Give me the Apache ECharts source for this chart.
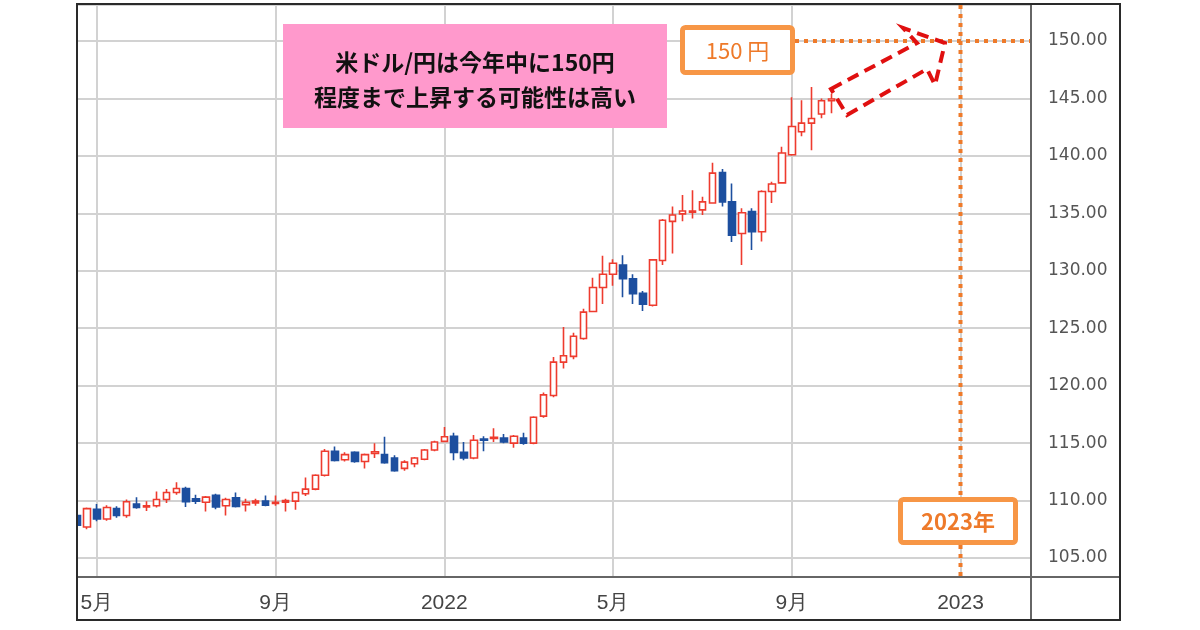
<!DOCTYPE html>
<html><head><meta charset="utf-8">
<script src="https://cdn.jsdelivr.net/npm/echarts@6/dist/echarts.min.js"></script>
<style>html,body{margin:0;padding:0;background:#fff}#c{width:1200px;height:630px}</style>
</head><body><div id="c"></div>
<script>
// Weekly categories (week starting Monday)
const weeks = [
'2021-04-19','2021-04-26','2021-05-03','2021-05-10','2021-05-17','2021-05-24','2021-05-31','2021-06-07','2021-06-14','2021-06-21',
'2021-06-28','2021-07-05','2021-07-12','2021-07-19','2021-07-26','2021-08-02','2021-08-09','2021-08-16','2021-08-23','2021-08-30',
'2021-09-06','2021-09-13','2021-09-20','2021-09-27','2021-10-04','2021-10-11','2021-10-18','2021-10-25','2021-11-01','2021-11-08',
'2021-11-15','2021-11-22','2021-11-29','2021-12-06','2021-12-13','2021-12-20','2021-12-27','2022-01-03','2022-01-10','2022-01-17',
'2022-01-24','2022-01-31','2022-02-07','2022-02-14','2022-02-21','2022-02-28','2022-03-07','2022-03-14','2022-03-21','2022-03-28',
'2022-04-04','2022-04-11','2022-04-18','2022-04-25','2022-05-02','2022-05-09','2022-05-16','2022-05-23','2022-05-30','2022-06-06',
'2022-06-13','2022-06-20','2022-06-27','2022-07-04','2022-07-11','2022-07-18','2022-07-25','2022-08-01','2022-08-08','2022-08-15',
'2022-08-22','2022-08-29','2022-09-05','2022-09-12','2022-09-19','2022-09-26','2022-10-03','2022-10-10','2022-10-17','2022-10-24',
'2022-10-31','2022-11-07','2022-11-14','2022-11-21','2022-11-28','2022-12-05','2022-12-12','2022-12-19','2022-12-26','2023-01-02',
'2023-01-09','2023-01-16','2023-01-23','2023-01-30','2023-02-06','2023-02-13','2023-02-20'
];
// USD/JPY weekly: [open, close, low, high]
const ohlc = [
[108.7,107.85,107.6,108.9],[107.7,109.3,107.5,109.4],[109.25,108.4,108.2,109.7],[108.4,109.4,108.25,109.6],[109.3,108.7,108.5,109.5],
[108.7,109.9,108.5,110.1],[109.7,109.4,109.3,110.3],[109.45,109.55,109.1,109.95],[109.55,110.1,109.4,110.8],[110.1,110.7,109.8,111.0],
[110.7,111.05,110.5,111.6],[111.05,109.9,109.45,111.2],[110.15,109.95,109.7,110.5],[109.85,110.3,109.05,110.4],[110.45,109.45,109.25,110.6],
[109.55,110.1,108.7,110.25],[110.25,109.5,109.4,110.7],[109.65,109.85,109.05,110.15],[109.8,109.95,109.55,110.15],[109.95,109.6,109.5,110.45],
[109.75,109.85,109.55,110.45],[109.85,110.0,109.05,110.15],[109.95,110.7,109.2,110.8],[110.6,111.0,110.4,112.0],[111.0,112.2,110.9,112.3],
[112.2,114.3,112.1,114.5],[114.3,113.5,113.4,114.7],[113.55,114.0,113.4,114.2],[114.2,113.4,113.3,114.3],[113.4,114.0,112.8,114.1],
[114.1,114.25,113.7,115.0],[114.0,113.3,113.2,115.55],[113.7,112.6,112.5,113.95],[112.8,113.35,112.6,113.5],[113.2,113.7,112.9,113.8],
[113.6,114.4,113.5,114.5],[114.4,115.1,114.3,115.2],[115.15,115.55,115.1,116.4],[115.6,114.2,113.5,115.9],[114.2,113.7,113.5,115.1],
[113.7,115.25,113.6,115.7],[115.35,115.25,114.3,115.6],[115.4,115.5,115.1,116.3],[115.45,115.1,115.0,115.8],[115.0,115.6,114.6,115.7],
[115.45,115.0,114.85,115.9],[115.0,117.25,114.9,117.35],[117.35,119.2,117.2,119.4],[119.15,122.05,119.0,122.5],[122.05,122.6,121.5,125.1],
[122.55,124.3,122.3,124.6],[124.1,126.4,124.0,126.7],[126.45,128.55,126.4,129.4],[128.55,129.7,127.1,131.3],[129.7,130.65,128.7,131.0],
[130.5,129.3,127.7,131.35],[129.3,128.0,127.1,129.7],[128.05,127.1,126.5,128.25],[127.0,130.95,126.9,131.0],[130.9,134.4,130.5,134.5],
[134.3,134.85,131.5,135.6],[134.95,135.2,134.3,136.6],[135.1,135.2,134.55,137.0],[135.3,136.0,134.85,136.45],[135.9,138.5,135.85,139.4],
[138.55,136.0,135.6,138.85],[136.0,133.1,132.5,137.6],[133.25,135.05,130.5,135.45],[135.15,133.4,131.8,135.45],[133.4,136.9,132.55,137.0],
[136.9,137.55,135.9,137.75],[137.65,140.25,137.6,140.8],[140.1,142.55,140.0,145.1],[142.1,142.85,141.7,144.85],[142.85,143.25,140.5,146.0],
[143.65,144.8,143.27,145.0],[144.8,144.95,143.7,145.4]
];
const xTickDates = ['2021-05-03','2021-09-06','2022-01-03','2022-05-02','2022-09-05','2023-01-02'];
const xTickLabels = ['5月','9月','2022','5月','9月','2023'];
const yMin = 103.35, yMax = 153.13;
const targetValue = 150;
const targetDate = '2023-01-02';
const noteLines = ['米ドル/円は今年中に150円', '程度まで上昇する可能性は高い'];
const targetLabel = '150 円';
const yearLabel = '2023年';

const chart = echarts.init(document.getElementById('c'), null, {renderer: 'canvas'});
const isTick = (i, v) => xTickDates.indexOf(v) >= 0;
chart.setOption({
  animation: false,
  backgroundColor: '#ffffff',
  grid: {left: 77, right: 170, top: 5, bottom: 53, containLabel: false, outerBoundsMode: 'none'},
  xAxis: {
    type: 'category', data: weeks, boundaryGap: false,
    axisLine: {show: false}, axisTick: {show: false},
    axisLabel: {interval: isTick, formatter: v => xTickLabels[xTickDates.indexOf(v)] || '',
      fontFamily: '"Liberation Sans Narrow","Liberation Sans",sans-serif', fontSize: 21, color: '#444', margin: 16},
    splitLine: {show: true, interval: isTick, lineStyle: {color: '#d2d2d2', width: 2}}
  },
  yAxis: {
    type: 'value', position: 'right', min: yMin, max: yMax, splitNumber: 10,
    axisLine: {show: false}, axisTick: {show: false},
    axisLabel: {formatter: v => (Math.abs(v / 5 - Math.round(v / 5)) < 1e-6 ? v.toFixed(2) : ''),
      fontFamily: '"DejaVu Sans",sans-serif', fontSize: 17, color: '#555', margin: 18},
    splitLine: {lineStyle: {color: '#d2d2d2', width: 2}}
  },
  series: [{
    type: 'candlestick', data: ohlc, barWidth: 7, clip: true,
    itemStyle: {color: '#ffffff', color0: '#1D4F9F', borderColor: '#EE3B2E', borderColor0: '#1D4F9F', borderWidth: 1.6}
  }]
});

const yT = chart.convertToPixel({yAxisIndex: 0}, targetValue);
const xT = chart.convertToPixel({xAxisIndex: 0}, targetDate);
const orange = '#EE7A2A';
chart.setOption({
  graphic: [
    {type: 'rect', z: 40, shape: {x: 0, y: 0, width: 77, height: 630}, style: {fill: '#fff'}},
    {type: 'line', z: 50, shape: {x1: xT, y1: 5, x2: xT, y2: 577}, style: {stroke: orange, lineWidth: 4, lineDash: [4, 5]}},
    {type: 'line', z: 50, shape: {x1: 795, y1: yT, x2: 1030, y2: yT}, style: {stroke: orange, lineWidth: 4, lineDash: [4, 5]}},
    {type: 'rect', z: 60, shape: {x: 283, y: 24, width: 384, height: 104}, style: {fill: '#FF99CC'}},
    {type: 'text', z: 61, x: 475, y: 62, style: {text: noteLines[0], fill: '#111', font: 'bold 23px "Noto Sans CJK JP",sans-serif', align: 'center', verticalAlign: 'middle'}},
    {type: 'text', z: 61, x: 475, y: 97, style: {text: noteLines[1], fill: '#111', font: 'bold 23px "Noto Sans CJK JP",sans-serif', align: 'center', verticalAlign: 'middle'}},
    {type: 'rect', z: 60, shape: {x: 682.5, y: 27.5, width: 110, height: 45, r: 3}, style: {fill: '#fff', stroke: '#F79646', lineWidth: 5}},
    {type: 'text', z: 61, x: 737.5, y: 51, style: {text: targetLabel, fill: orange, font: '22px "Noto Sans CJK JP",sans-serif', align: 'center', verticalAlign: 'middle'}},
    {type: 'rect', z: 60, shape: {x: 900.5, y: 499.5, width: 115, height: 43, r: 3}, style: {fill: '#fff', stroke: '#F79646', lineWidth: 5}},
    {type: 'text', z: 61, x: 958, y: 522, style: {text: yearLabel, fill: orange, font: 'bold 22px "Noto Sans CJK JP",sans-serif', align: 'center', verticalAlign: 'middle'}},
    {type: 'polygon', z: 62, shape: {points: [[831, 89], [917, 43], [903, 28], [945, 43], [935, 85], [927, 69], [847, 115]]},
      style: {fill: 'none', stroke: '#E01010', lineWidth: 4, lineDash: [12, 7]}},
    {type: 'line', z: 70, shape: {x1: 1031, y1: 5, x2: 1031, y2: 620}, style: {stroke: '#666', lineWidth: 2}},
    {type: 'line', z: 70, shape: {x1: 78, y1: 577, x2: 1120, y2: 577}, style: {stroke: '#666', lineWidth: 2}},
    {type: 'rect', z: 71, shape: {x: 77, y: 4, width: 1043, height: 616}, style: {fill: 'none', stroke: '#2a2a2a', lineWidth: 2}}
  ]
});
</script>
</body></html>
